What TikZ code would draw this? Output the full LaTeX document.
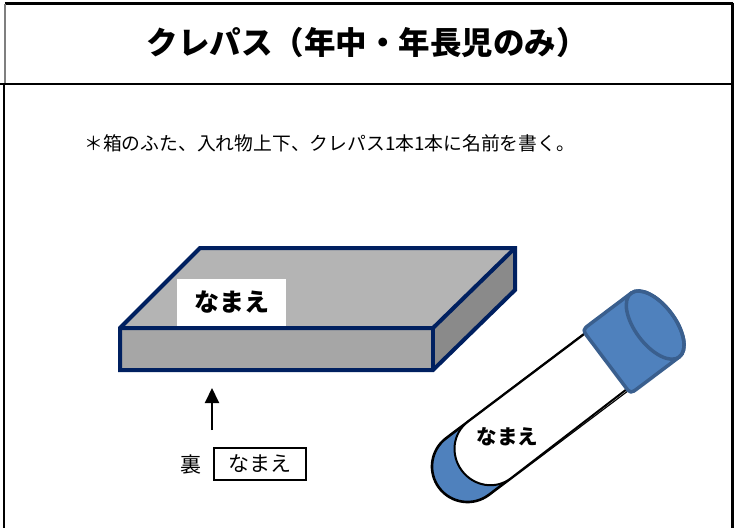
\documentclass[tikz,border=0pt]{standalone}
\usepackage{fontspec}
\setmainfont{Noto Sans CJK JP}
\usetikzlibrary{arrows.meta}
\definecolor{boxnavy}{HTML}{002060}
\definecolor{topgray}{HTML}{B4B4B4}
\definecolor{frontgray}{HTML}{A6A6A6}
\definecolor{sidegray}{HTML}{8A8A8A}
\definecolor{crayblue}{HTML}{4F81BD}
\definecolor{capline}{HTML}{3A5F8E}
\definecolor{rulegray}{HTML}{7F7F7F}
\tikzset{
  rule/.style={line width=2.2pt, black},
  boxedge/.style={draw=boxnavy, line width=4pt, line join=miter},
  label/.style={inner sep=0pt},
  upArrow/.style={line width=2pt, -{Triangle[length=15pt,width=14pt]}},
  crayline/.style={draw=black, line width=2.6pt},
  capstyle/.style={draw=capline, line width=3.5pt, fill=crayblue, line join=round}
}
\begin{document}
\begin{tikzpicture}[x=1pt,y=-1pt]
\useasboundingbox (0,0) rectangle (739,528);
\fill[white] (0,0) rectangle (739,528);
% table rules
\draw[rule] (4.5,3.5) -- (733,3.5);
\draw[line width=1.5pt, rulegray] (4.8,3.5) -- (4.8,84);
\draw[rule] (0,84) -- (733,84);
\draw[rule] (4,84) -- (4,528);
\draw[line width=3pt] (732.5,2.5) -- (732.5,528);
% title and note
\node[label, font=\fontsize{31.5}{31.5}\selectfont\bfseries] (title) at (367,43) {クレパス（年中・年長児のみ）};
\node[label, anchor=west, font=\fontsize{18.8}{18.8}\selectfont] (note) at (84,143) {＊箱のふた、入れ物上下、クレパス1本1本に名前を書く。};
% box (cuboid)
\fill[topgray] (120,328) -- (200,248) -- (515,248) -- (433,328) -- cycle;
\fill[frontgray] (120,328) rectangle (433,370);
\fill[sidegray] (433,328) -- (515,248) -- (515,290) -- (433,370) -- cycle;
\draw[boxedge] (120,328) -- (200,248) -- (515,248) -- (515,290) -- (433,370) -- (120,370) -- cycle;
\draw[boxedge] (120,328) -- (433,328) -- (515,248);
\draw[boxedge] (433,328) -- (433,370);
\node[label, fill=white, minimum width=109pt, minimum height=47pt, font=\fontsize{25}{25}\selectfont\bfseries] (toplabel) at (231.5,302.5) {なまえ};
% arrow and back label
\coordinate (afoot) at (212,430);
\coordinate (atip) at (212,388);
\draw[upArrow] (afoot) -- (atip);
\node[label, font=\fontsize{21}{21}\selectfont] (ura) at (191,465) {裏};
\node[label, draw, line width=1.5pt, minimum width=92pt, minimum height=32pt, font=\fontsize{21}{21}\selectfont] (backlabel) at (260,464) {なまえ};
% crayon
\begin{scope}[shift={(467.5,466.5)}, rotate=37]
  \fill[crayblue] (200,-35.5) -- (0,-35.5) arc[start angle=270, end angle=90, radius=35.5] -- (200,35.5) -- cycle;
  \draw[crayline] (200,-35.5) -- (0,-35.5) arc[start angle=270, end angle=90, radius=35.5] -- (200,35.5);
  \fill[white] (200,-35.5) -- (27,-35.5) arc[start angle=270, end angle=90, x radius=34, y radius=35.5] -- (200,35.5) -- cycle;
  \draw[black, line width=2pt] (200,-35.5) -- (27,-35.5) arc[start angle=270, end angle=90, x radius=34, y radius=35.5] -- (200,33.8);
  \draw[capstyle] (235,-40) -- (184,-40) .. controls (174,-40) and (174,-40) .. (174,-30) -- (174,30) .. controls (174,40) and (174,40) .. (184,40) -- (235,40) arc[start angle=90, end angle=-90, x radius=20, y radius=40] -- cycle;
  \draw[capline, line width=3.5pt] (235,0) ellipse [x radius=20, y radius=40];
\end{scope}
\node[label, font=\fontsize{20.5}{20.5}\selectfont\bfseries] (craylabel) at (507.5,437) {なまえ};
\end{tikzpicture}
\end{document}
